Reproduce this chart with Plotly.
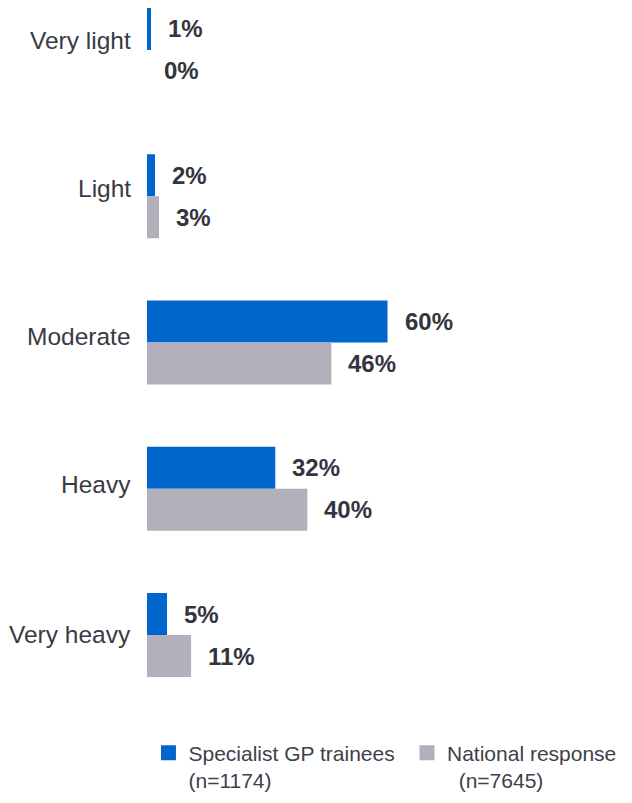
import plotly.graph_objects as go

categories = ["Very light", "Light", "Moderate", "Heavy", "Very heavy"]
trainees = [1, 2, 60, 32, 5]
national = [0, 3, 46, 40, 11]
series_names = ["Specialist GP trainees\u00a0<br>(n=1174)", "National response<br>\u00a0\u00a0(n=7645)"]

blue = "#0066cc"
grey = "#b1b0bb"
text_col = "#34343e"

# the category labels in the original sit a little above their bars (px)
label_lift = [9.5, 8, 6, 4, 0.5]

fig = go.Figure()

for vals, col, name in [(trainees, blue, series_names[0]), (national, grey, series_names[1])]:
    fig.add_trace(go.Bar(
        y=categories, x=vals, orientation="h",
        marker=dict(color=col, line=dict(width=0)),
        showlegend=False,
    ))
    # legend-only marker so the square is a bit bigger
    fig.add_trace(go.Scatter(
        x=[None], y=[None], mode="markers", name=name,
        marker=dict(symbol="square", size=15, color=col, line=dict(width=0)),
    ))

# value labels, one per bar
annotations = []
for vals, shift in [(trainees, 21), (national, -21)]:
    for cat, v in zip(categories, vals):
        annotations.append(dict(
            x=v, y=cat, xref="x", yref="y",
            text="<b>%d%%</b>" % v, showarrow=False,
            xanchor="left", yanchor="middle", xshift=15, yshift=shift,
            font=dict(size=24, color=text_col),
        ))

# category labels
for cat, lift in zip(categories, label_lift):
    annotations.append(dict(
        x=0, y=cat, xref="paper", yref="y",
        text=cat, showarrow=False,
        xanchor="right", yanchor="middle", xshift=-14, yshift=lift,
        font=dict(size=24.5, color="#3a3a44"),
    ))

# page body has an 8px margin: 8px off the width, 16px off the height
# (taller than that and a scrollbar eats the right edge)
fig.update_layout(
    width=624, height=787,
    margin=dict(l=139, r=20, t=0, b=95, autoexpand=False),
    paper_bgcolor="white", plot_bgcolor="white",
    font=dict(family="Liberation Sans, Arial, sans-serif", color=text_col),
    bargap=0.4256, bargroupgap=0,
    barmode="group",
    annotations=annotations,
    xaxis=dict(range=[0, 116], showgrid=False, zeroline=False, showline=False,
               showticklabels=False, ticks="", automargin=False),
    yaxis=dict(range=[4.444, -0.287], showgrid=False, zeroline=False, showline=False,
               ticks="", showticklabels=False, automargin=False),
    legend=dict(orientation="h", x=-0.0001, xanchor="left", y=-0.047, yanchor="top",
                valign="top", font=dict(size=21, color="#404048"),
                indentation=1.5, bgcolor="rgba(0,0,0,0)"),
)

fig.write_html("out.html")
